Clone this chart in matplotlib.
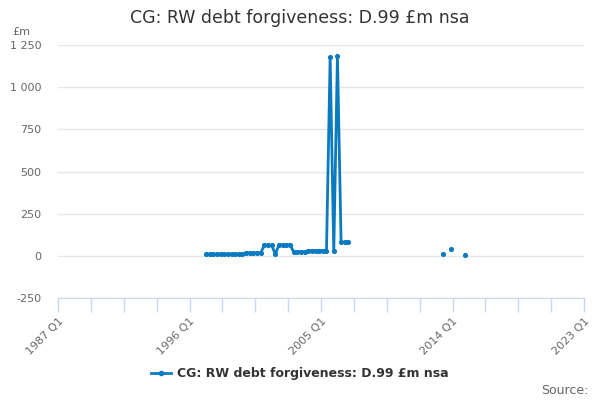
import numpy as np
import matplotlib
matplotlib.use("Agg")
import matplotlib.pyplot as plt
from matplotlib.lines import Line2D

# ---- data ----
first_year, last_year = 1987, 2022
quarters = [f"{y} Q{q}" for y in range(first_year, last_year + 1) for q in range(1, 5)]

run_quarters_start = "1997 Q1"
run_values = [10, 10, 10, 10, 10, 10, 10, 10, 10, 10, 10,
              18, 18, 18, 18, 18,
              64, 64, 62,
              10,
              66, 66, 66, 66,
              24, 24, 24, 24,
              31, 31, 31, 31, 31,
              27,
              1176,
              26,
              1186,
              80, 80, 80]

late_quarters = ["2013 Q2", "2013 Q4", "2014 Q4"]
late_values = [10, 41, 2]

y_ticks = [-250, 0, 250, 500, 750, 1000, 1250]
x_label_quarters = ["1987 Q1", "1996 Q1", "2005 Q1", "2014 Q1", "2023 Q1"]

title = "CG: RW debt forgiveness: D.99 £m nsa"
series_name = "CG: RW debt forgiveness: D.99 £m nsa"
color = "#0b7bc1"

# ---- build series ----
values = np.full(len(quarters), np.nan)
s = quarters.index(run_quarters_start)
values[s:s + len(run_values)] = run_values
for q, v in zip(late_quarters, late_values):
    values[quarters.index(q)] = v

n = len(quarters)
x = np.arange(n) + 0.5  # category centres

fig = plt.figure(figsize=(6, 4), dpi=100)
ax = fig.add_axes([58 / 600, (400 - 298) / 400, 526 / 600, 253 / 400])

ax.plot(x, values, color=color, lw=2, marker="o", ms=2.7, zorder=3)

ax.set_xlim(0, n)
ax.set_ylim(-250, 1250)
ax.set_yticks(y_ticks)
ax.set_yticklabels([f"{v:,}".replace(",", " ") for v in y_ticks],
                   color="#666666", fontsize=8)
ax.yaxis.grid(True, color="#e6e6e6", lw=1)
ax.set_axisbelow(True)
ax.tick_params(axis="y", length=0, pad=12)

tick_pos = np.arange(0, n + 1, 9)
ax.set_xticks(tick_pos)
label_map = {36 * i: lab for i, lab in enumerate(x_label_quarters)}
ax.set_xticklabels([label_map.get(int(t), "") for t in tick_pos],
                   color="#666666", fontsize=8)
ax.tick_params(axis="x", length=10, color="#ccd6eb", width=1, pad=3)
for lab in ax.get_xticklabels():
    lab.set_rotation(45)
    lab.set_ha("right")
    lab.set_va("top")
    lab.set_rotation_mode("anchor")

for sp in ["top", "right", "left"]:
    ax.spines[sp].set_visible(False)
ax.spines["bottom"].set_color("#ccd6eb")

fig.text(0.5, 1 - 18 / 400, title, ha="center", va="center",
         fontsize=12.5, color="#333333")
fig.text(12 / 600, 1 - 32 / 400, "£m", ha="left", va="center",
         fontsize=8, color="#666666")

handle = Line2D([], [], color=color, lw=2, marker="o", ms=3)
leg = fig.legend([handle], [series_name], loc="center",
                 bbox_to_anchor=(0.5, 1 - 374 / 400), frameon=False,
                 handlelength=1.6, handletextpad=0.5,
                 prop={"size": 9, "weight": "bold"})
for t in leg.get_texts():
    t.set_color("#333333")

fig.text(589 / 600, 1 - 390 / 400, "Source:", ha="right", va="center",
         fontsize=9, color="#666666")

fig.savefig("out.png", dpi=100)
